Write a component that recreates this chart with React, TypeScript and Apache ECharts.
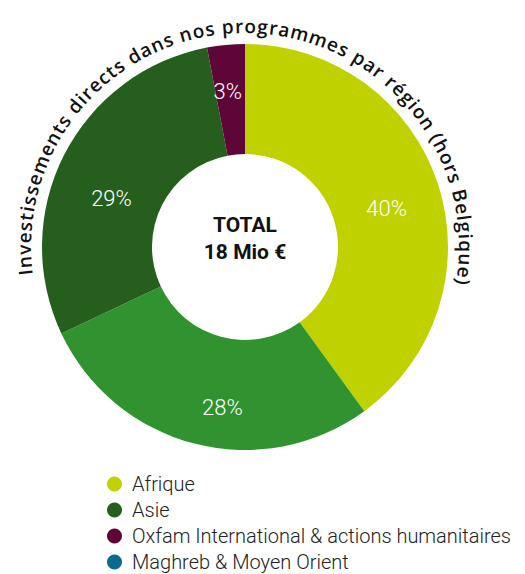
import React, { useEffect, useRef } from "react";
import * as echarts from "echarts";

const CATEGORIES = [
  "Afrique",
  "Amérique latine",
  "Asie",
  "Oxfam International & actions humanitaires",
  "Maghreb & Moyen Orient",
];
const VALUES = [40, 28, 29, 3, 0];
const COLORS = ["#c0d100", "#31932f", "#265f1d", "#5e0638", "#0b6a8d"];
const LABEL_OFFSETS = [
  [-2, 8],
  [15, 14],
  [1, 20],
  [-3, -5],
  [0, 0],
];
const LEGEND_ITEMS = [
  "Afrique",
  "Asie",
  "Oxfam International & actions humanitaires",
  "Maghreb & Moyen Orient",
];
const TITLE = "Investissements directs dans nos programmes par région (hors Belgique)";
const CENTER_LINES = ["TOTAL", "18 Mio €"];

const CX = 245;
const CY = 247;
const FONT_FAMILY = "Roboto, 'Noto Sans', sans-serif";
const TITLE_FAMILY = "'Open Sans', Roboto, sans-serif";

function buildArcTitle(): any[] {
  const fontSize = 19;
  const weight = 600;
  const R = 221;
  const centerDeg = 1.25;
  const spanDeg = 195.7;
  const canvas = document.createElement("canvas");
  const ctx = canvas.getContext("2d")!;
  ctx.font = `${weight} ${fontSize}px ${TITLE_FAMILY}`;
  const chars = Array.from(TITLE);
  const widths = chars.map((c) => ctx.measureText(c).width);
  const n = chars.length;
  const W = widths.reduce((a, b) => a + b, 0);
  const natural = W - widths[0] / 2 - widths[n - 1] / 2;
  const target = ((spanDeg * Math.PI) / 180) * R;
  const ls = (target - natural) / (n - 1);
  const els: any[] = [];
  const start = ((centerDeg - spanDeg / 2) * Math.PI) / 180;
  let mid = 0;
  for (let i = 0; i < n; i++) {
    const theta = start + mid / R;
    if (chars[i] !== " ") {
      els.push({
        type: "text",
        x: CX + R * Math.sin(theta),
        y: CY - R * Math.cos(theta),
        rotation: -theta,
        silent: true,
        style: {
          text: chars[i],
          fill: "#111",
          font: `${weight} ${fontSize}px ${TITLE_FAMILY}`,
          align: "center",
          verticalAlign: "middle",
        },
      });
    }
    if (i < n - 1) mid += widths[i] / 2 + ls + widths[i + 1] / 2;
  }
  return els;
}

export default function App() {
  const ref = useRef<HTMLDivElement>(null);

  useEffect(() => {
    if (!ref.current) return;
    const chart = echarts.init(ref.current, null, { renderer: "svg" });
    const data = CATEGORIES.map((name, i) => ({
      name,
      value: VALUES[i],
      itemStyle: { color: COLORS[i] },
      label: { show: VALUES[i] > 0, offset: LABEL_OFFSETS[i] },
    }));
    chart.setOption({
      animation: false,
      backgroundColor: "#ffffff",
      legend: {
        data: LEGEND_ITEMS,
        orient: "vertical",
        left: 107,
        top: 474,
        height: 120,
        padding: 0,
        icon: "circle",
        itemWidth: 15,
        itemHeight: 15,
        itemGap: 6,
        selectedMode: false,
        textStyle: {
          fontFamily: FONT_FAMILY,
          fontSize: 20,
          fontWeight: 300,
          color: "#222",
          lineHeight: 18,
          padding: [0, 0, 0, 5],
        },
      },
      series: [
        {
          type: "pie",
          center: [CX, CY],
          radius: [93, 203],
          startAngle: 90,
          clockwise: true,
          avoidLabelOverlap: false,
          silent: true,
          itemStyle: { borderWidth: 0 },
          label: {
            show: true,
            position: "inside",
            color: "#ffffff",
            fontFamily: FONT_FAMILY,
            fontSize: 22,
            fontWeight: 300,
            formatter: (p: any) => `${p.value}%`,
          },
          labelLine: { show: false },
          emphasis: { disabled: true },
          data,
        },
      ],
      graphic: [
        ...buildArcTitle(),
        {
          type: "text",
          x: CX,
          y: CY - 9,
          silent: true,
          style: {
            text: CENTER_LINES.join("\n"),
            fill: "#111",
            font: `bold 21px ${FONT_FAMILY}`,
            lineHeight: 27,
            align: "center",
            verticalAlign: "middle",
          },
        },
      ],
    });
    return () => chart.dispose();
  }, []);

  return (
    <div
      ref={ref}
      style={{ position: "fixed", left: 0, top: 0, width: 525, height: 574 }}
    />
  );
}
